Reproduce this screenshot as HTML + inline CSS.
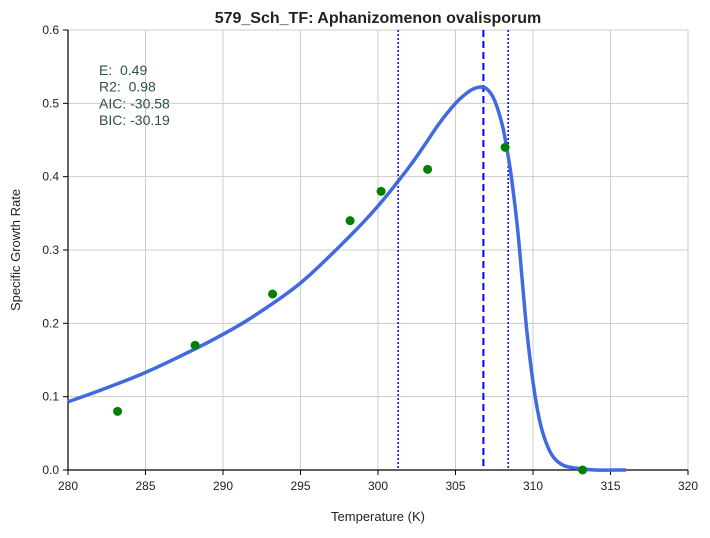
<!DOCTYPE html>
<html><head><meta charset="utf-8"><style>
body{margin:0;background:#fff;font-family:"Liberation Sans",Arial,sans-serif}
svg text{font-family:"Liberation Sans",Arial,sans-serif;white-space:pre}
</style></head><body>
<svg id="c" width="710" height="533" xmlns="http://www.w3.org/2000/svg"></svg>
<script>
const xTicks=[280,285,290,295,300,305,310,315,320];
const yTicks=[0.0,0.1,0.2,0.3,0.4,0.5,0.6];
const obsT=[283.2,288.2,293.2,298.2,300.2,303.2,308.2,313.2];
const obsR=[0.08,0.17,0.24,0.34,0.38,0.41,0.44,0.0];
const fitT=[280,282,285,288,290,292,295,298,300,302,303,304,305,305.5,306,306.5,307,307.5,308,308.3,308.6,309,309.3,309.6,310,310.4,310.8,311.3,312,313,314,316];
const fitR=[0.093,0.108,0.133,0.163,0.185,0.21,0.255,0.315,0.36,0.413,0.443,0.474,0.5,0.51,0.518,0.522,0.52,0.505,0.472,0.44,0.40,0.33,0.26,0.19,0.12,0.07,0.04,0.018,0.006,0.002,0.0,0.0];
const vDashed=[306.8];
const vDotted=[301.3,308.4];
const stats=["E:  0.49","R2:  0.98","AIC: -30.58","BIC: -30.19"];
const NS="http://www.w3.org/2000/svg";
const svg=document.getElementById('c');
const L=68,R=688,T=30,B=470;
const sx=v=>L+(v-280)/40*(R-L);
const sy=v=>B-(v/0.6)*(B-T);
function mk(tag,at,parent){const e=document.createElementNS(NS,tag);for(const k in at)e.setAttribute(k,at[k]);(parent||svg).appendChild(e);return e;}
xTicks.forEach(t=>{
 const g=mk('line',{x1:sx(t),x2:sx(t),y1:T,y2:B,stroke:'#cccccc','stroke-width':1});
 
 
 const tk=mk('line',{x1:sx(t),x2:sx(t),y1:B,y2:B+5,stroke:'#000'});
 
 
 const tx=mk('text',{x:sx(t),y:B+20,'font-size':12,'text-anchor':'middle',fill:'#222'});tx.textContent=t;
 
 
});
yTicks.forEach(t=>{
 const g=mk('line',{x1:L,x2:R,y1:sy(t),y2:sy(t),stroke:'#cccccc','stroke-width':1});
 
 
 const tk=mk('line',{x1:L-5,x2:L,y1:sy(t),y2:sy(t),stroke:'#000'});
 
 
 const tx=mk('text',{x:L-9,y:sy(t)+4,'font-size':12,'text-anchor':'end',fill:'#222'});tx.textContent=t.toFixed(1);
 
 
});
const ax=mk('path',{d:`M${L},${T}V${B}H${R}`,fill:'none',stroke:'#000','stroke-width':1.2});


vDotted.forEach(v=>{const l=mk('line',{x1:sx(v),x2:sx(v),y1:T,y2:B,stroke:'#0000ff','stroke-width':1.5,'stroke-dasharray':'2,2'});
 
 });
vDashed.forEach(v=>{const l=mk('line',{x1:sx(v),x2:sx(v),y1:T,y2:B,stroke:'#0000ff','stroke-width':2,'stroke-dasharray':'7,4'});
 
 });
const P=fitT.map((t,i)=>[sx(t),sy(fitR[i])]);
let d=`M${P[0][0]},${P[0][1]}`;
for(let i=0;i<P.length-1;i++){
 const p0=P[Math.max(i-1,0)],p1=P[i],p2=P[i+1],p3=P[Math.min(i+2,P.length-1)];
 const c1=[p1[0]+(p2[0]-p0[0])/6,p1[1]+(p2[1]-p0[1])/6];
 const c2=[p2[0]-(p3[0]-p1[0])/6,p2[1]-(p3[1]-p1[1])/6];
 d+=`C${c1[0]},${c1[1]} ${c2[0]},${c2[1]} ${p2[0]},${p2[1]}`;
}
const p=mk('path',{d:d,fill:'none',stroke:'#4169e1','stroke-width':3.5,'stroke-linejoin':'round'});


obsT.forEach((t,i)=>{const c=mk('circle',{cx:sx(t),cy:sy(obsR[i]),r:4.5,fill:'#008000'});
 
 });
stats.forEach((s,i)=>{const tx=mk('text',{x:99,y:75+i*16.7,'font-size':14,fill:'#2f4f4f'});tx.textContent=s;
 
 });
const ti=mk('text',{x:378,y:23,'font-size':16,'font-weight':'bold','text-anchor':'middle',fill:'#222'});ti.textContent='579_Sch_TF: Aphanizomenon ovalisporum';


const xl=mk('text',{x:378,y:521,'font-size':13,'text-anchor':'middle',fill:'#222'});xl.textContent='Temperature (K)';


const yl=mk('text',{x:20,y:250,'font-size':13,'text-anchor':'middle',fill:'#222',transform:'rotate(-90 20 250)'});yl.textContent='Specific Growth Rate';


</script>
</body></html>
